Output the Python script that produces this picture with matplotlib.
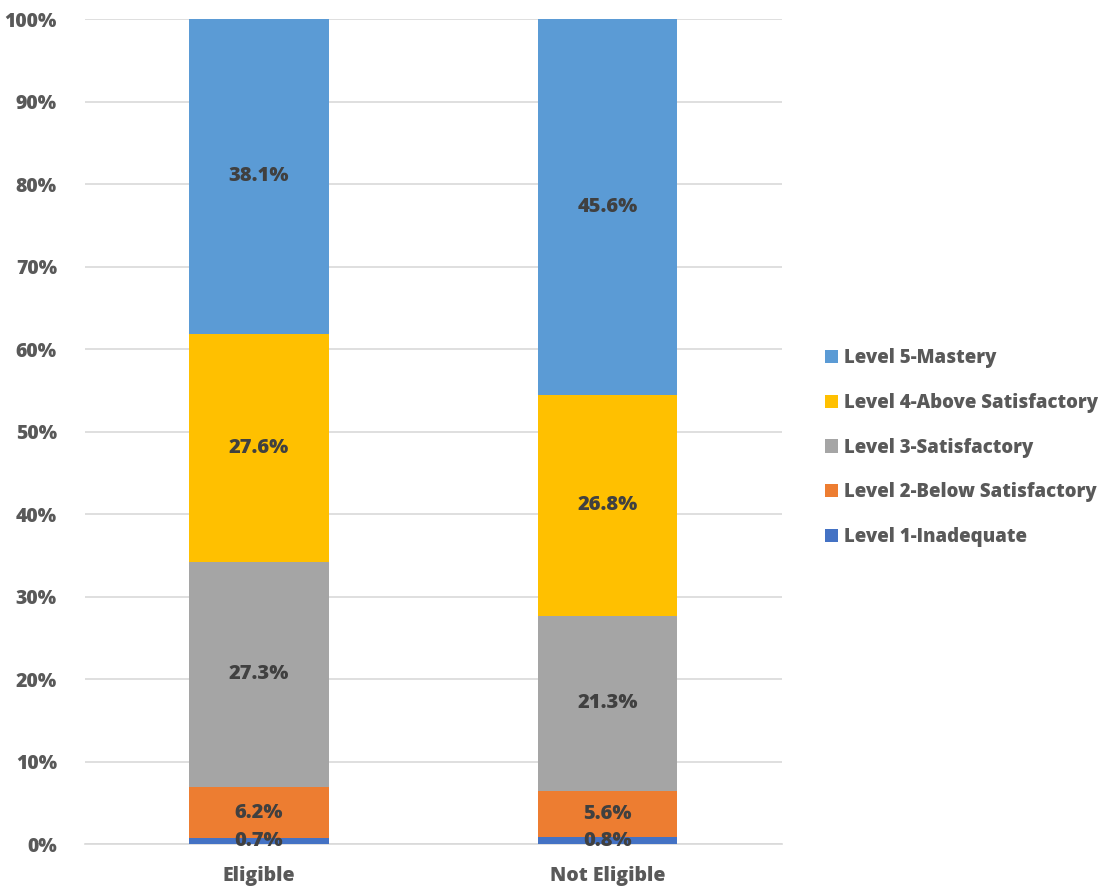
import matplotlib
matplotlib.use("Agg")
import matplotlib.pyplot as plt
from matplotlib.patches import Patch
import numpy as np

plt.rcParams['font.family'] = ['Open Sans', 'DejaVu Sans']
plt.rcParams['font.weight'] = 'bold'

categories = ["Eligible", "Not Eligible"]
levels = ["Level 1-Inadequate", "Level 2-Below Satisfactory", "Level 3-Satisfactory",
          "Level 4-Above Satisfactory", "Level 5-Mastery"]
level1 = [0.7, 0.8]
level2 = [6.2, 5.6]
level3 = [27.3, 21.3]
level4 = [27.6, 26.8]
level5 = [38.1, 45.6]
colors = ["#4472C4", "#ED7D31", "#A5A5A5", "#FFC000", "#5B9BD5"]
yticks = [0, 10, 20, 30, 40, 50, 60, 70, 80, 90, 100]

series = np.array([level1, level2, level3, level4, level5], dtype=float)
# 100% stacked: each column is scaled to its own total
shares = series / series.sum(axis=0) * 100

W = 800  # heavy text weight
fig = plt.figure(figsize=(11.15, 8.89), dpi=100)
ax = fig.add_axes([0.076, 0.0506, 0.625, 0.928])

x = np.arange(len(categories))
bottom = np.zeros(len(categories))
for i, name in enumerate(levels):
    ax.bar(x, shares[i], 0.4, bottom=bottom, color=colors[i], label=name, zorder=3)
    for j in range(len(categories)):
        ax.text(x[j], bottom[j] + shares[i][j] / 2, f"{series[i][j]:.1f}%",
                ha="center", va="center", fontsize=14.5, color="#404040",
                fontweight=W, zorder=4)
    bottom += shares[i]

ax.set_xlim(-0.5, 1.5)
ax.set_ylim(0, 100)
ax.set_yticks(yticks)
ax.set_yticklabels([f"{t}%" for t in yticks], fontsize=14, color="#595959", fontweight=W)
ax.set_xticks(x)
ax.set_xticklabels(categories, fontsize=14, color="#595959", fontweight=W)
ax.tick_params(axis="both", length=0)
ax.tick_params(axis="y", pad=20)
ax.tick_params(axis="x", pad=16)
ax.grid(axis="y", color="#D9D9D9", linewidth=1.2, zorder=0)
for side in ["left", "right", "top"]:
    ax.spines[side].set_visible(False)
ax.spines["bottom"].set_color("#D9D9D9")
ax.spines["bottom"].set_linewidth(1.2)

handles = [Patch(facecolor=colors[i], label=levels[i]) for i in range(len(levels))][::-1]
leg = fig.legend(handles=handles, loc="upper left", bbox_to_anchor=(0.733, 0.6165),
                 frameon=False, fontsize=13.4, handlelength=0.7, handleheight=0.7,
                 handletextpad=0.35, labelspacing=1.32, borderaxespad=0)
for t in leg.get_texts():
    t.set_color("#595959")
    t.set_fontweight(W)

fig.savefig("out.png", dpi=100)
